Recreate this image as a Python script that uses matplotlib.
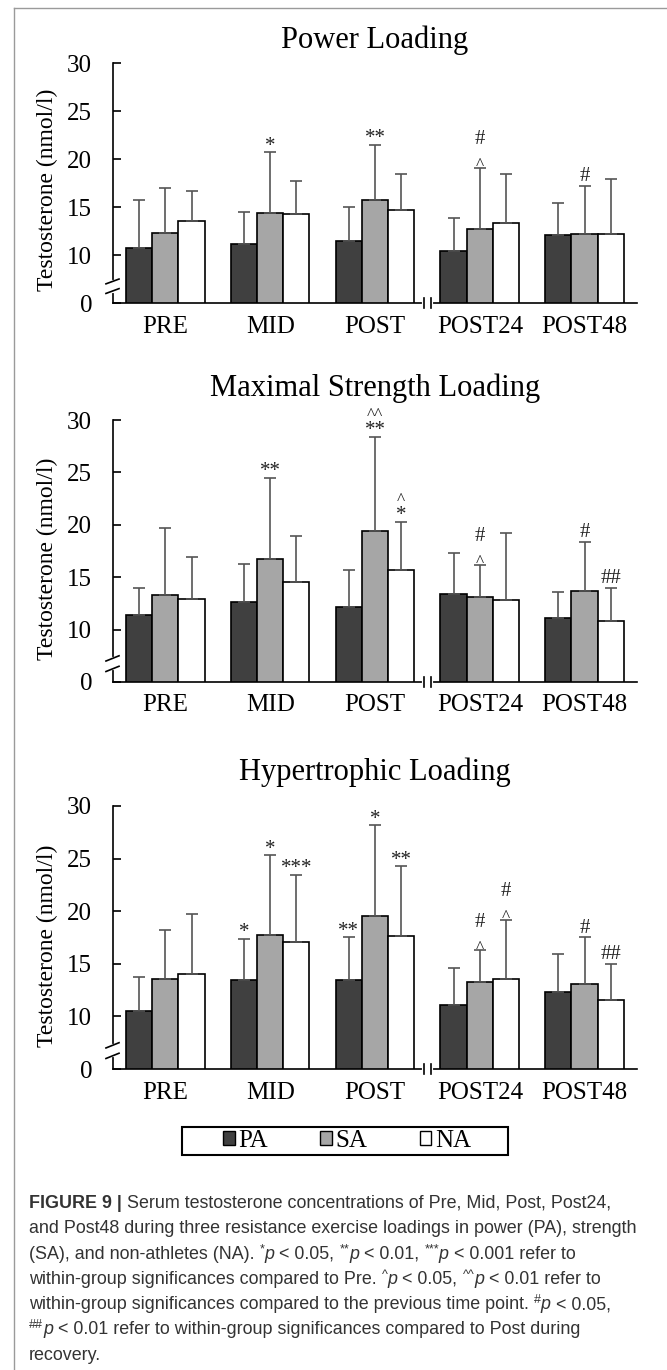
import matplotlib
matplotlib.use('Agg')
import matplotlib.pyplot as plt
import numpy as np
from matplotlib.lines import Line2D
from matplotlib.patches import Patch, Rectangle

plt.rcParams['font.family'] = ['Liberation Serif', 'DejaVu Serif']

# time points and groups
timepoints = ["PRE", "MID", "POST", "POST24", "POST48"]
groups = ["PA", "SA", "NA"]
group_colors = ["#404040", "#a6a6a6", "#ffffff"]

titles = ["Power Loading", "Maximal Strength Loading", "Hypertrophic Loading"]

# means (nmol/l)
power_mean = [[10.7, 11.1, 11.5, 10.4, 12.1],
              [12.3, 14.4, 15.7, 12.7, 12.2],
              [13.5, 14.3, 14.7, 13.3, 12.2]]
power_sd = [[5.0, 3.4, 3.5, 3.5, 3.3],
            [4.7, 6.3, 5.8, 6.4, 5.0],
            [3.2, 3.4, 3.7, 5.1, 5.7]]

strength_mean = [[11.4, 12.6, 12.2, 13.4, 11.1],
                 [13.3, 16.7, 19.4, 13.1, 13.65],
                 [12.9, 14.5, 15.65, 12.8, 10.8]]
strength_sd = [[2.6, 3.7, 3.45, 3.9, 2.5],
               [6.4, 7.8, 9.0, 3.1, 4.75],
               [4.0, 4.4, 4.65, 6.4, 3.2]]

hyper_mean = [[10.5, 13.45, 13.45, 11.05, 12.35],
              [13.6, 17.7, 19.5, 13.25, 13.05],
              [14.05, 17.1, 17.6, 13.55, 11.6]]
hyper_sd = [[3.2, 3.95, 4.05, 3.55, 3.55],
            [4.6, 7.6, 8.7, 3.05, 4.45],
            [5.7, 6.35, 6.7, 5.65, 3.4]]

# significance marks: (timepoint, group) -> symbols from bottom to top
power_marks = {(1, 1): ["*"], (2, 1): ["**"], (3, 1): ["^", "#"], (4, 1): ["#"]}
strength_marks = {(1, 1): ["**"], (2, 1): ["**", "^^"], (2, 2): ["*", "^"],
                  (3, 1): ["^", "#"], (4, 1): ["#"], (4, 2): ["##"]}
hyper_marks = {(1, 0): ["*"], (1, 1): ["*"], (1, 2): ["***"],
               (2, 0): ["**"], (2, 1): ["*"], (2, 2): ["**"],
               (3, 1): ["^", "#"], (3, 2): ["^", "#"],
               (4, 1): ["#"], (4, 2): ["##"]}

yticks = [5, 10, 15, 20, 25, 30]
ytick_labels = ["0", "10", "15", "20", "25", "30"]

W, H = 667, 1370
fig = plt.figure(figsize=(W / 100, H / 100), dpi=100)

# frame lines of the page
fig.add_artist(Line2D([14 / W, 1], [1 - 8 / H] * 2, color="#9a9a9a", lw=1))
fig.add_artist(Line2D([14 / W] * 2, [0, 1 - 8 / H], color="#9a9a9a", lw=1))

rects = [(0.1694, 0.7788, 0.7856, 0.1752),
         (0.1694, 0.5022, 0.7856, 0.1912),
         (0.1694, 0.2197, 0.7856, 0.1920)]
title_y = [40, 388, 772]

panels = [(power_mean, power_sd, power_marks),
          (strength_mean, strength_sd, strength_marks),
          (hyper_mean, hyper_sd, hyper_marks)]

x = np.arange(len(timepoints))
bw = 0.25

for k, (means, sds, marks) in enumerate(panels):
    ax = fig.add_axes(rects[k])
    for g in range(3):
        xs = x + (g - 1) * bw
        ax.bar(xs, means[g], width=bw, color=group_colors[g],
               edgecolor="black", linewidth=1.2, zorder=2)
        ax.errorbar(xs, means[g], yerr=[np.zeros(5), sds[g]], fmt="none",
                    ecolor="#555555", elinewidth=1.2, capsize=4, capthick=1.2,
                    zorder=3)
    for (t, g), syms in marks.items():
        top = means[g][t] + sds[g][t]
        xs = x[t] + (g - 1) * bw
        for i, s in enumerate(syms):
            off = 1 + 13.5 * i
            fs = 15
            if "#" in s:
                off += 2.5
            if "^" in s:
                off -= 2
                fs = 12.5
            ax.annotate(s, (xs, top), xytext=(0, off), textcoords="offset points",
                        ha="center", va="baseline", fontsize=fs, color="#222222",
                        annotation_clip=False)

    ax.set_xlim(-0.5, 4.5)
    ax.set_ylim(5, 30)
    ax.set_yticks(yticks)
    ax.set_yticklabels(ytick_labels)
    ax.set_xticks(x)
    ax.set_xticklabels(timepoints)
    ax.tick_params(axis="y", direction="in", length=6, width=1.2, pad=15,
                   labelsize=18)
    ax.tick_params(axis="x", length=0, pad=9, labelsize=18)
    for sp in ["top", "right"]:
        ax.spines[sp].set_visible(False)
    for sp in ["left", "bottom"]:
        ax.spines[sp].set_linewidth(1.2)
    ax.set_ylabel("Testosterone (nmol/l)", fontsize=17)
    ax.yaxis.set_label_coords(-0.105, 0.47)

    # y axis break
    ytr = ax.get_yaxis_transform()
    ax.plot([0, 0], [6.3, 7.2], color="white", lw=3, transform=ytr,
            clip_on=False, zorder=5)
    for yb in (6.25, 7.25):
        ax.plot([-0.0134, 0.0115], [yb - 0.25, yb + 0.25], color="black",
                lw=1.2, transform=ytr, clip_on=False, zorder=6)
    # x axis break
    xtr = ax.get_xaxis_transform()
    ax.plot([2.47, 2.53], [0, 0], color="white", lw=3, transform=xtr,
            clip_on=False, zorder=5)
    for xb in (2.47, 2.53):
        ax.plot([xb, xb], [-0.02, 0.02], color="black", lw=1.2,
                transform=xtr, clip_on=False, zorder=6)

    fig.text(375 / W, 1 - title_y[k] / H, titles[k], ha="center", va="center",
             fontsize=22)

# legend
handles = [Patch(facecolor=c, edgecolor="black", linewidth=1.0) for c in group_colors]
fig.legend(handles, groups, loc="center", bbox_to_anchor=(347 / W, 1 - 1141 / H),
           ncol=3, frameon=False, fontsize=18, handlelength=0.45,
           handleheight=0.45, handletextpad=0.15, columnspacing=2.1)
fig.add_artist(Rectangle((182 / W, 1 - 1155 / H), 326 / W, 28 / H,
                         transform=fig.transFigure, fill=False,
                         edgecolor="black", lw=1.5))

# caption
cap_font = ['Liberation Sans', 'DejaVu Sans']
cs = 12.9
cc = "#333333"
n = dict(fontsize=cs, color=cc, family=cap_font)
b = dict(fontsize=cs, color=cc, family=cap_font, weight="bold")
it = dict(fontsize=cs, color=cc, family=cap_font, style="italic")
sup = dict(fontsize=9, color=cc, family=cap_font, raise_px=6)

caption = [
    [("FIGURE 9 | ", b), ("Serum testosterone concentrations of Pre, Mid, Post, Post24,", n)],
    [("and Post48 during three resistance exercise loadings in power (PA), strength", n)],
    [("(SA), and non-athletes (NA). ", n), ("*", sup), ("p", it), (" < 0.05, ", n),
     ("**", sup), ("p", it), (" < 0.01, ", n), ("***", sup), ("p", it),
     (" < 0.001 refer to", n)],
    [("within-group significances compared to Pre. ", n), ("^", sup), ("p", it),
     (" < 0.05, ", n), ("^^", sup), ("p", it), (" < 0.01 refer to", n)],
    [("within-group significances compared to the previous time point. ", n),
     ("#", sup), ("p", it), (" < 0.05,", n)],
    [("##", sup), ("p", it), (" < 0.01 refer to within-group significances compared to Post during", n)],
    [("recovery.", n)],
]

renderer = fig.canvas.get_renderer()
for i, parts in enumerate(caption):
    xp = 29
    yb = 1208 + 25.3 * i
    for txt, st in parts:
        st = dict(st)
        rp = st.pop("raise_px", 0)
        t = fig.text(xp / W, 1 - (yb - rp) / H, txt, ha="left", va="baseline", **st)
        bb = t.get_window_extent(renderer=renderer)
        xp += bb.width

fig.savefig("out.png", dpi=100)
